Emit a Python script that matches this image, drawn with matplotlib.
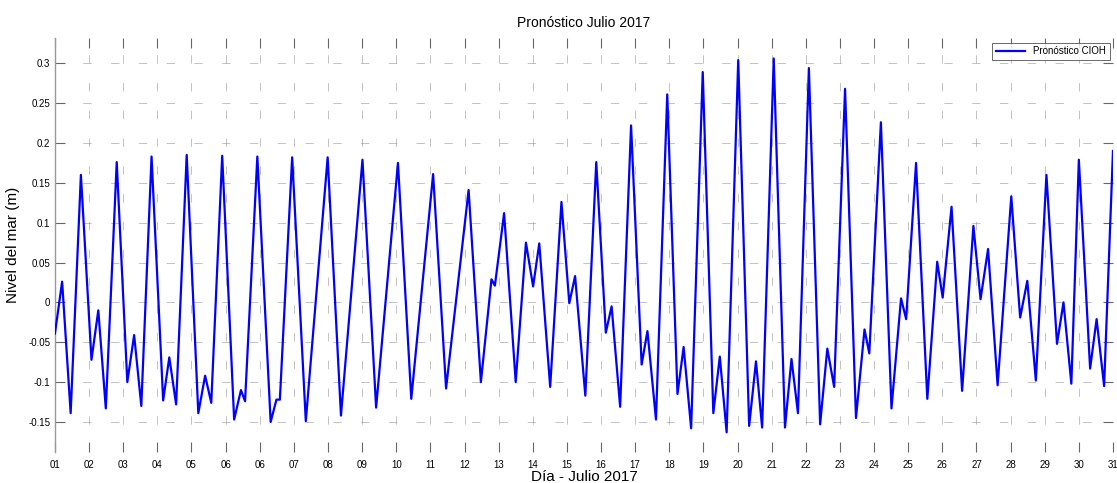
import matplotlib
matplotlib.use('Agg')
import matplotlib.pyplot as plt

plt.rcParams['font.family'] = ['Liberation Sans', 'DejaVu Sans']
plt.rcParams['lines.scale_dashes'] = False

# Tiempo en unidades de marca del eje x (0 = dia 01, 31 = dia 31)
dias = [0.00, 0.21, 0.46, 0.76, 1.07, 1.27, 1.49, 1.81, 2.12, 2.32,
        2.53, 2.83, 3.17, 3.35, 3.55, 3.86, 4.20, 4.40, 4.58, 4.90,
        5.25, 5.45, 5.57, 5.93, 6.32, 6.49, 6.59, 6.95, 7.35, 7.99,
        8.38, 9.01, 9.41, 10.05, 10.44, 11.08, 11.46, 12.12, 12.48, 12.79,
        12.89, 13.16, 13.50, 13.80, 14.01, 14.19, 14.51, 14.84, 15.07, 15.24,
        15.54, 15.86, 16.14, 16.31, 16.56, 16.88, 17.19, 17.36, 17.61, 17.94,
        18.24, 18.42, 18.64, 18.98, 19.29, 19.48, 19.68, 20.02, 20.34, 20.54,
        20.72, 21.06, 21.39, 21.58, 21.77, 22.09, 22.42, 22.63, 22.83, 23.15,
        23.47, 23.72, 23.86, 24.20, 24.51, 24.79, 24.94, 25.23, 25.56, 25.85,
        26.01, 26.27, 26.58, 26.91, 27.12, 27.34, 27.62, 28.02, 28.28, 28.49,
        28.74, 29.05, 29.36, 29.55, 29.78, 30.00, 30.33, 30.52, 30.74, 31.00]

# Nivel del mar pronosticado (m) en pleamares y bajamares
nivel = [-0.039, 0.026, -0.139, 0.160, -0.072, -0.010, -0.133, 0.176, -0.100, -0.041,
         -0.130, 0.183, -0.123, -0.069, -0.128, 0.185, -0.139, -0.092, -0.126, 0.184,
         -0.147, -0.110, -0.124, 0.183, -0.150, -0.122, -0.122, 0.182, -0.149, 0.182,
         -0.142, 0.179, -0.132, 0.175, -0.121, 0.161, -0.108, 0.141, -0.100, 0.029,
         0.021, 0.112, -0.100, 0.075, 0.020, 0.074, -0.106, 0.126, -0.001, 0.033,
         -0.117, 0.176, -0.038, -0.005, -0.131, 0.222, -0.078, -0.036, -0.147, 0.261,
         -0.115, -0.056, -0.158, 0.289, -0.139, -0.068, -0.163, 0.304, -0.155, -0.074,
         -0.157, 0.306, -0.157, -0.071, -0.139, 0.294, -0.153, -0.058, -0.106, 0.268,
         -0.145, -0.034, -0.064, 0.226, -0.133, 0.005, -0.021, 0.175, -0.121, 0.051,
         0.006, 0.120, -0.111, 0.096, 0.004, 0.067, -0.104, 0.133, -0.019, 0.027,
         -0.098, 0.160, -0.052, 0.000, -0.102, 0.179, -0.083, -0.021, -0.105, 0.190]

# Etiquetas del eje x tal como salen en la figura original (06 repetido)
etiquetas_x = ['01', '02', '03', '04', '05', '06', '06'] + ['%02d' % d for d in range(7, 32)]
marcas_y = [-0.15, -0.1, -0.05, 0, 0.05, 0.1, 0.15, 0.2, 0.25, 0.3]
etiquetas_y = ['-0.15', '-0.1', '-0.05', '0', '0.05', '0.1', '0.15', '0.2', '0.25', '0.3']

fig = plt.figure(figsize=(11.17, 4.83), dpi=100)
ax = fig.add_axes([0.0492, 0.0642, 0.9472, 0.8571])

ax.plot(dias, nivel, color='#0000ff', linewidth=1.6, label='Pronóstico CIOH', zorder=3)

ax.set_xlim(0, 31)
ax.set_ylim(-0.1877, 0.3317)
ax.set_xticks(range(len(etiquetas_x)))
ax.set_xticklabels(etiquetas_x)
ax.set_yticks(marcas_y)
ax.set_yticklabels(etiquetas_y)

# rejilla discontinua tenue, como la de MATLAB
ax.grid(True, color='#909090', linewidth=0.7, linestyle=(0, (6, 14)), alpha=0.55)
ax.tick_params(direction='in', length=7, width=0.8, color='#666666',
               labelsize=7, top=True, right=True)
ax.tick_params(axis='x', pad=6)

for lado in ['top', 'right', 'bottom']:
    ax.spines[lado].set_visible(False)
ax.spines['left'].set_color('#999999')
ax.spines['left'].set_linewidth(1.0)

ax.set_title('Pronóstico Julio 2017', fontsize=10, pad=8)
ax.set_xlabel('Día - Julio 2017', fontsize=11, labelpad=0)
ax.set_ylabel('Nivel del mar (m)', fontsize=11, labelpad=6)

leg = ax.legend(loc='upper right', bbox_to_anchor=(0.997, 0.989), borderaxespad=0,
                fontsize=7, handlelength=3, frameon=True, fancybox=False)
leg.get_frame().set_edgecolor('#444444')
leg.get_frame().set_linewidth(0.7)

fig.savefig('out.png', dpi=100)
